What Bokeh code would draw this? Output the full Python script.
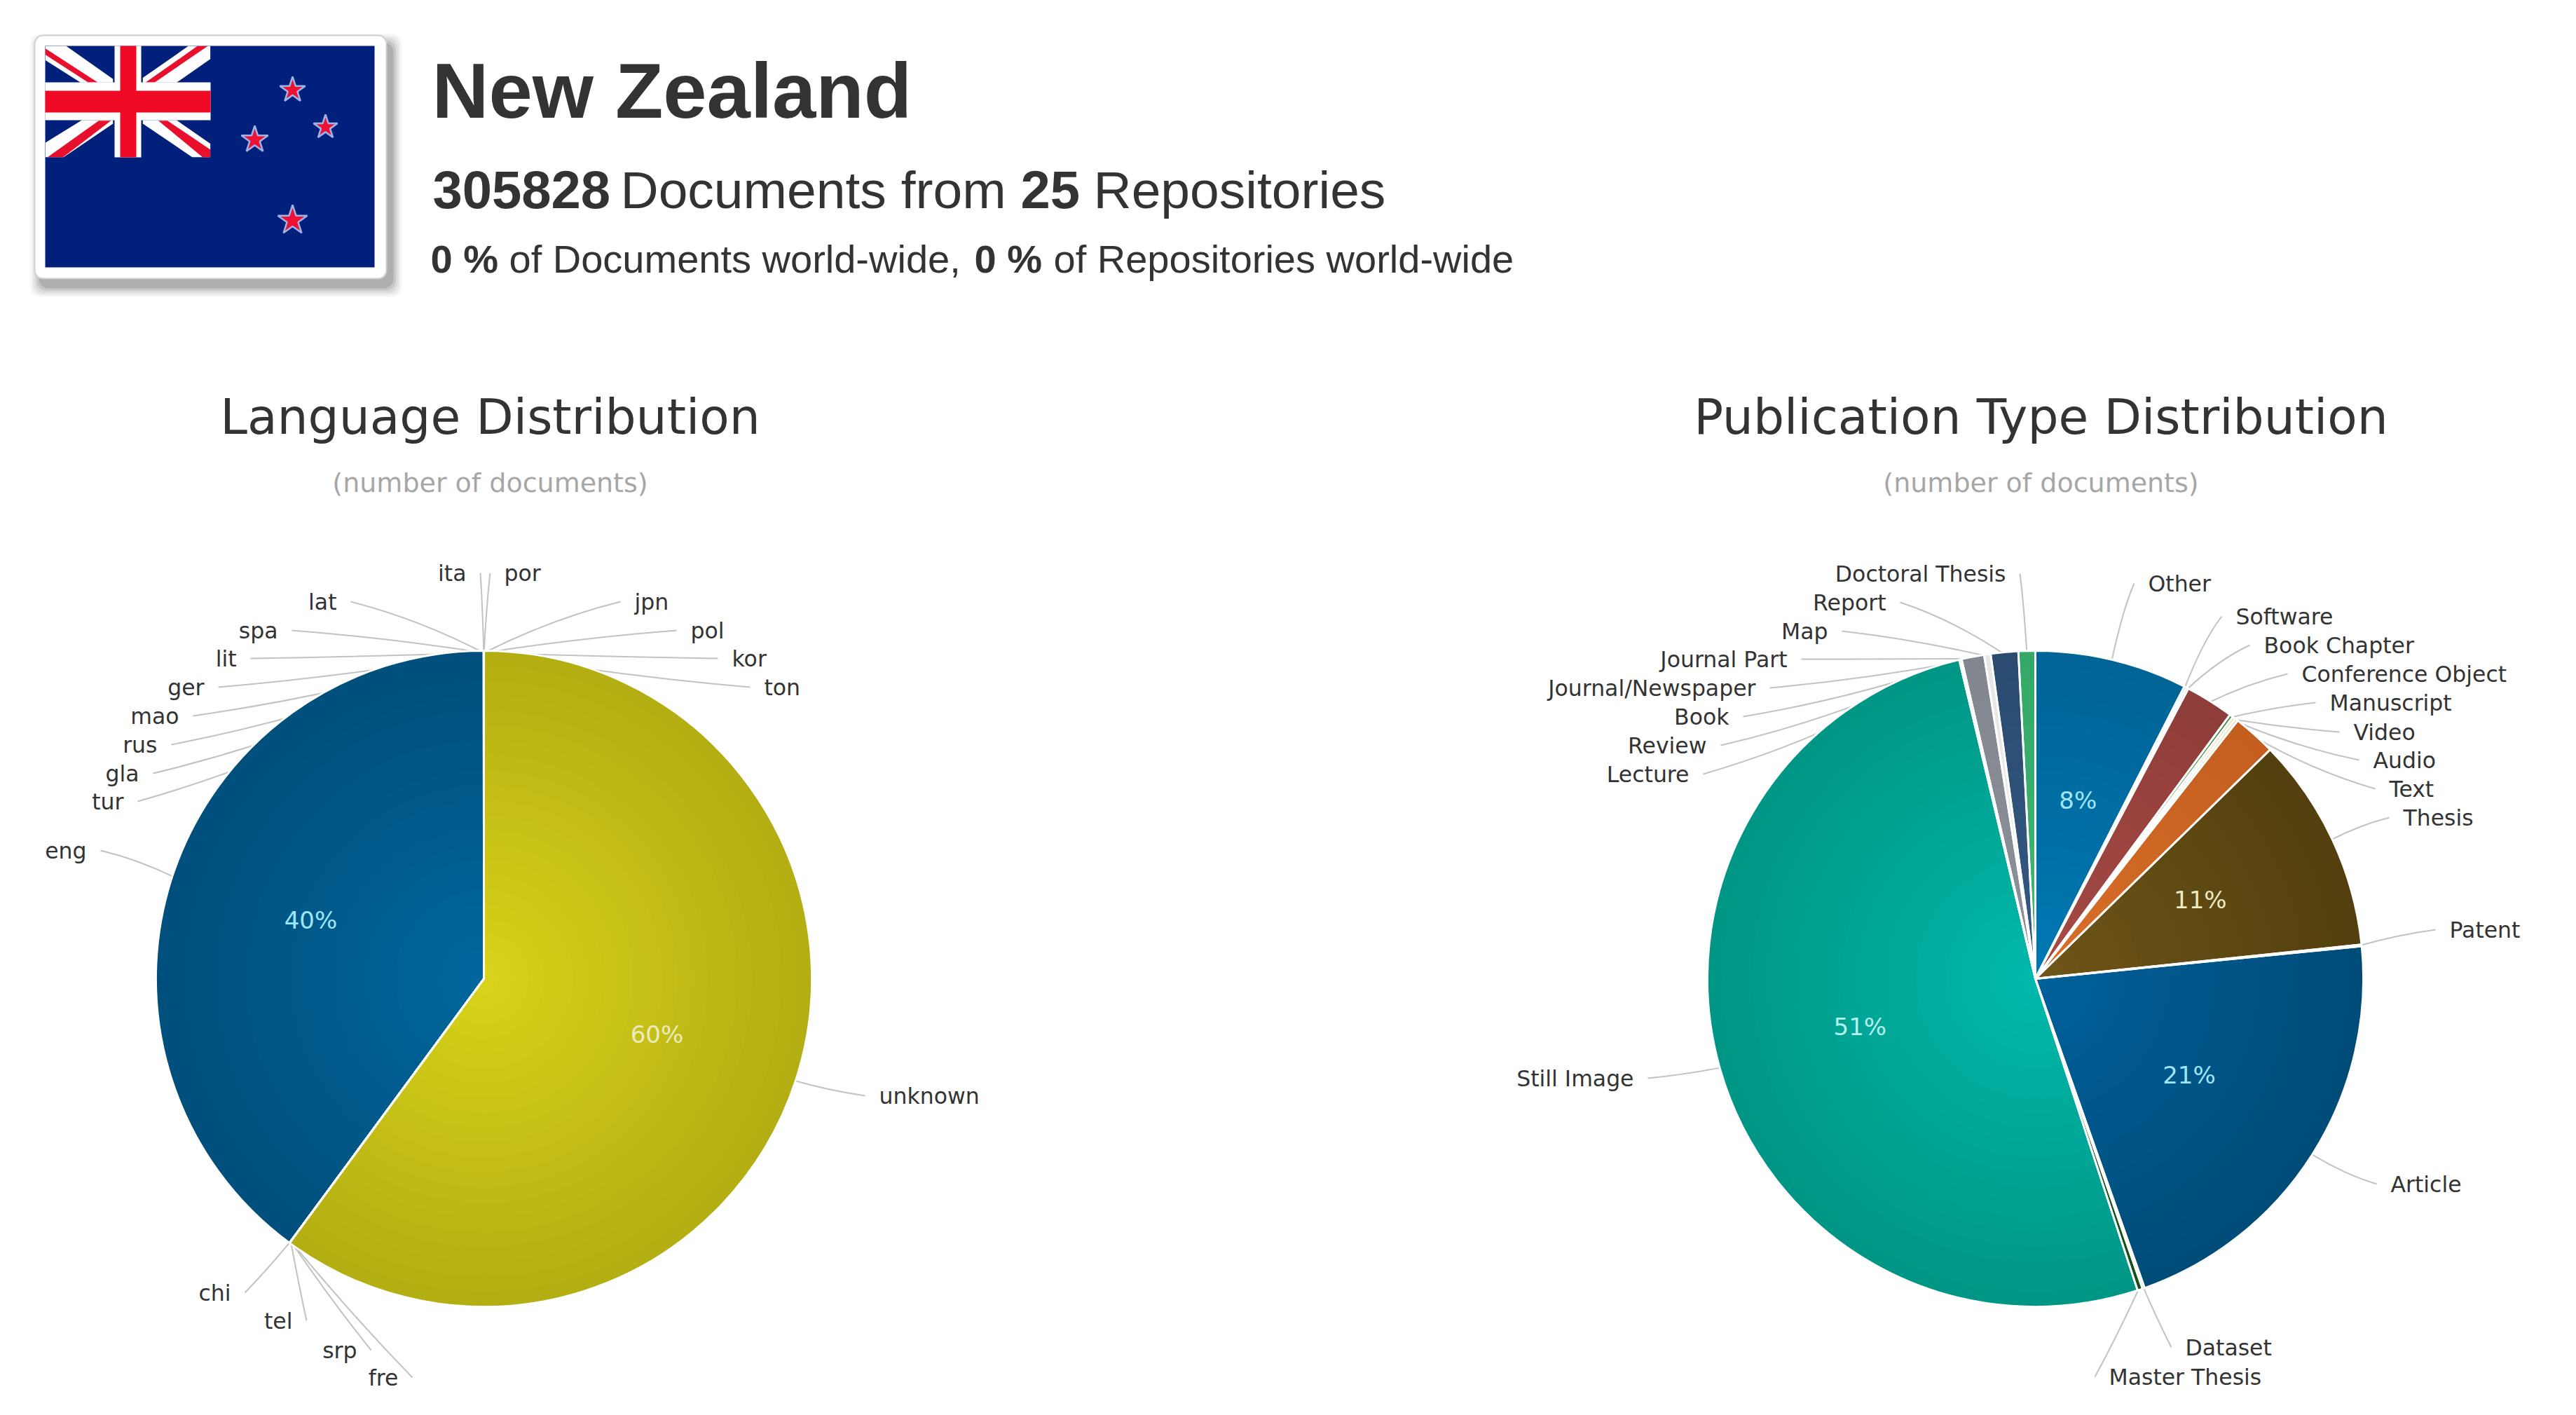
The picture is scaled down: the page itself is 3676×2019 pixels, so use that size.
import math
from bokeh.core.properties import value
from bokeh.embed import file_html
from bokeh.models import ColumnDataSource, Range1d
from bokeh.plotting import figure
from bokeh.resources import INLINE

# ---------------------------------------------------------------- data
country = "New Zealand"
documents = "305828"
repositories = "25"

lang_names = ["por", "jpn", "pol", "kor", "ton", "unknown", "fre", "srp", "tel", "chi",
              "eng", "tur", "gla", "rus", "mao", "ger", "lit", "spa", "lat", "ita"]
lang_values = [0.001, 0.001, 0.001, 0.001, 0.001, 60.1, 0.001, 0.001, 0.001, 0.001,
               39.9, 0.001, 0.001, 0.001, 0.001, 0.001, 0.001, 0.001, 0.001, 0.001]

pub_names = ["Other", "Software", "Book Chapter", "Conference Object", "Manuscript", "Video",
             "Audio", "Text", "Thesis", "Patent", "Article", "Dataset", "Master Thesis",
             "Still Image", "Lecture", "Review", "Book", "Journal/Newspaper", "Journal Part",
             "Map", "Report", "Doctoral Thesis"]
pub_values = [7.5, 0.11, 0.11, 2.39, 0.17, 0.15, 0.15, 2.11, 10.64, 0.08, 21.17, 0.11, 0.25,
              51.3, 0.03, 0.03, 0.03, 0.03, 1.11, 0.32, 1.35, 0.83]

# ---------------------------------------------------------------- styles
lang_inner = ["#d8d21a", "#d8d21a", "#d8d21a", "#d8d21a", "#d8d21a", "#d8d21a", "#d8d21a",
              "#d8d21a", "#d8d21a", "#d8d21a", "#00669b", "#00669b", "#00669b", "#00669b",
              "#00669b", "#00669b", "#00669b", "#00669b", "#00669b", "#00669b"]
lang_outer = ["#b3ae12", "#b3ae12", "#b3ae12", "#b3ae12", "#b3ae12", "#b3ae12", "#b3ae12",
              "#b3ae12", "#b3ae12", "#b3ae12", "#004f7c", "#004f7c", "#004f7c", "#004f7c",
              "#004f7c", "#004f7c", "#004f7c", "#004f7c", "#004f7c", "#004f7c"]

pub_inner = ["#0078b4", "#1a4f7a", "#2c6a9a", "#a64a45", "#4c9a50", "#f3e6bf", "#f3e6bf",
             "#d96e28", "#6e5518", "#0078b4", "#00609a", "#2e8b57", "#1b5e20", "#00b8aa",
             "#9aa0a8", "#9aa0a8", "#9aa0a8", "#9aa0a8", "#8d929b", "#f0f0f0", "#345a84", "#3fb877"]
pub_outer = ["#006496", "#123d60", "#20557e", "#8f3d3a", "#3f8544", "#eadbb0", "#eadbb0",
             "#c45f20", "#54400e", "#006496", "#004c79", "#257a4a", "#145018", "#009685",
             "#85898f", "#85898f", "#85898f", "#85898f", "#82868e", "#e6e6e6", "#2b4b70", "#35a868"]

TEXT = "#333333"
SANS = "Liberation Sans"
VERD = "DejaVu Sans"

W, H = 3676, 2019
RADIUS = 468
LANG_C = (690, 1396)
PUB_C = (2904, 1396)
RINGS = 22
LABEL_PX = 31.5

# Data-label layout (connector end at the label, text sits 20 px further out)
lang_anchor = {
    "por": (699, 817), "jpn": (885, 858), "pol": (965, 899), "kor": (1024, 939), "ton": (1070, 980),
    "unknown": (1234, 1563), "fre": (588, 1965), "srp": (529, 1926), "tel": (437, 1884),
    "chi": (349, 1844), "eng": (143, 1213), "tur": (196, 1143), "gla": (218, 1103),
    "rus": (244, 1062), "mao": (275, 1021), "ger": (311, 980), "lit": (357, 939),
    "spa": (416, 899), "lat": (500, 858), "ita": (685, 817),
}
lang_side = {"por": 1, "jpn": 1, "pol": 1, "kor": 1, "ton": 1, "unknown": 1}

pub_anchor = {
    "Other": (3045, 832), "Software": (3170, 879), "Book Chapter": (3210, 920),
    "Conference Object": (3264, 961), "Manuscript": (3304, 1002), "Video": (3338, 1044),
    "Audio": (3366, 1084), "Text": (3389, 1125), "Thesis": (3409, 1166), "Patent": (3475, 1326),
    "Article": (3391, 1689), "Dataset": (3098, 1922), "Master Thesis": (2989, 1964),
    "Still Image": (2351, 1538), "Lecture": (2430, 1104), "Review": (2455, 1063), "Book": (2487, 1022),
    "Journal/Newspaper": (2525, 981), "Journal Part": (2570, 940), "Map": (2628, 900),
    "Report": (2711, 859), "Doctoral Thesis": (2882, 818),
}
pub_side = {n: 1 for n in pub_names[:13]}

# ---------------------------------------------------------------- figure
p = figure(width=W - 16, height=H - 16, output_backend="svg", toolbar_location=None,
           x_range=Range1d(0, W - 16), y_range=Range1d(16, H),
           x_axis_type=None, y_axis_type=None, min_border=0, outline_line_color=None,
           background_fill_color="white", border_fill_color="white")
p.grid.visible = False


def Y(v):
    return H - v


def hex_mix(a, b, t):
    ca = [int(a[i:i + 2], 16) for i in (1, 3, 5)]
    cb = [int(b[i:i + 2], 16) for i in (1, 3, 5)]
    return "#%02x%02x%02x" % tuple(round(x + (y - x) * t) for x, y in zip(ca, cb))


def label(x, y, s, size, color=TEXT, font=VERD, align="left", baseline="alphabetic", style="normal"):
    p.text([x], [Y(y)], text=[s], text_font=value(font), text_font_size=f"{size}px", text_color=color,
           text_align=align, text_baseline=baseline, text_font_style=style)


def pie(center, names, values, inner, outer, anchor, side, title, title_x):
    cx, cy = center
    total = sum(values)
    a = 0.0
    starts, ends = [], []
    for v in values:
        starts.append(a)
        a += v / total * 2 * math.pi
        ends.append(a)
    mids = [(s + e) / 2 for s, e in zip(starts, ends)]

    # connectors sit behind the pie
    x0, y0, x1, y1, qx, qy = [], [], [], [], [], []
    for n, m in zip(names, mids):
        lx, ly = anchor[n]
        ex = cx + (RADIUS - 3) * math.sin(m)
        ey = cy - (RADIUS - 3) * math.cos(m)
        bend = 0.46 if ly > 1800 else 0.33
        x0.append(lx); y0.append(Y(ly)); x1.append(ex); y1.append(Y(ey))
        qx.append(lx + 0.5 * (ex - lx)); qy.append(Y(ly + bend * (ey - ly)))
    p.quadratic(x0, y0, x1, y1, qx, qy, line_color="#c2c2c2", line_width=2)

    # radial shading is built from nested wedges, outermost first
    sa = [math.pi / 2 - s for s in starts]
    ea = [math.pi / 2 - e for e in ends]
    for k in range(RINGS):
        t = k / (RINGS - 1)
        r = RADIUS * (1 - k / RINGS)
        src = ColumnDataSource(dict(s=sa, e=ea, c=[hex_mix(o, i, t) for o, i in zip(outer, inner)]))
        p.wedge(x=cx, y=Y(cy), radius=r, start_angle="s", end_angle="e", direction="clock",
                fill_color="c", line_color=None, source=src)
    p.wedge(x=[cx] * len(sa), y=[Y(cy)] * len(sa), radius=RADIUS, start_angle=sa, end_angle=ea,
            direction="clock", fill_color=None, line_color="white", line_width=2.8)

    # labels
    for n, v, m in zip(names, values, mids):
        lx, ly = anchor[n]
        if side.get(n):
            label(lx + 20, ly, n, LABEL_PX, baseline="middle")
        else:
            label(lx - 20, ly, n, LABEL_PX, align="right", baseline="middle")
        pct = v / total * 100
        if pct >= 5:
            bright = pct > 55 and n == "unknown" or n == "Thesis"
            col = "#ecebc0" if bright else ("#b6f2ee" if n == "Still Image" else "#a0e6fa")
            label(cx + 260 * math.sin(m), cy - 260 * math.cos(m) - 2, f"{pct:.0f}%", 34, color=col,
                  align="center", baseline="middle")

    label(title_x, 594, title, 69.5, color="#333333", align="center")
    label(title_x, 688, "(number of documents)", 38, color="#a6a6a6", align="center")


# ---------------------------------------------------------------- flag card
for grow, alpha in [(14, 0.05), (11, 0.07), (8, 0.09), (5, 0.12), (2, 0.18)]:
    p.quad(left=[49 + 8 - grow], right=[551 + 8 + grow], top=[Y(50 + 12 - grow)], bottom=[Y(397 + 12 + grow)],
           fill_color="#404040", fill_alpha=alpha, line_color=None, border_radius=14)
p.quad(left=[49], right=[551], top=[Y(50)], bottom=[Y(397)], fill_color="white", line_color="#d0d0d0",
       line_width=2, border_radius=12)
p.quad(left=[64], right=[534], top=[Y(65)], bottom=[Y(381)], fill_color="#00207c", line_color=None)


def fz(pts):
    """canton outline, in pixels of the flag image"""
    return [20 + x / 2.7 for x, _ in pts], [Y(20 + y / 2.98) for _, y in pts]


white_bands = [
    [(120, 135), (200, 135), (380, 275), (380, 290), (255, 290), (120, 195)],
    [(670, 135), (755, 135), (755, 190), (625, 290), (495, 290), (495, 270)],
    [(260, 450), (380, 450), (380, 465), (190, 607), (120, 607), (120, 545)],
    [(495, 450), (495, 465), (685, 607), (755, 607), (755, 550), (625, 450)],
]
red_bands = [
    [(120, 145), (120, 172), (285, 290), (322, 290)],
    [(705, 135), (745, 135), (540, 290), (505, 290)],
    [(325, 452), (372, 452), (188, 607), (128, 607)],
    [(555, 452), (590, 452), (755, 575), (755, 607), (725, 607)],
]
for poly in white_bands:
    xs, ys = fz(poly)
    p.patch(xs, ys, fill_color="white", line_color=None)
for poly in red_bands:
    xs, ys = fz(poly)
    p.patch(xs, ys, fill_color="#e8112d", line_color=None)
p.quad(left=[64], right=[300], top=[Y(117)], bottom=[Y(171)], fill_color="white", line_color=None)
p.quad(left=[163], right=[201], top=[Y(65)], bottom=[Y(224)], fill_color="white", line_color=None)
p.quad(left=[64], right=[300], top=[Y(129)], bottom=[Y(160)], fill_color="#f00a25", line_color=None)
p.quad(left=[171], right=[194], top=[Y(65)], bottom=[Y(224)], fill_color="#f00a25", line_color=None)
p.scatter([417, 464, 363, 417], [Y(128), Y(181), Y(199), Y(314)], marker="star", size=[38, 36, 40, 44],
          fill_color="#ee1133", line_color="#9fb4e6", line_width=2.5)

# ---------------------------------------------------------------- header
label(616, 129, country, 112, font=SANS, style="bold")
label(617, 270, documents, 76, font=SANS, style="bold")
label(885, 270, "Documents from", 75, font=SANS)
label(1456, 270, repositories, 76, font=SANS, style="bold")
label(1560, 270, "Repositories", 75, font=SANS)
label(614, 369, "0 %", 56, font=SANS, style="bold")
label(726, 369, "of Documents world-wide,", 56, font=SANS)
label(1390, 369, "0 %", 56, font=SANS, style="bold")
label(1503, 369, "of Repositories world-wide", 56, font=SANS)

# ---------------------------------------------------------------- pies
pie(LANG_C, lang_names, lang_values, lang_inner, lang_outer, lang_anchor, lang_side,
    "Language Distribution", 699)
pie(PUB_C, pub_names, pub_values, pub_inner, pub_outer, pub_anchor, pub_side,
    "Publication Type Distribution", 2912)

open("out.html", "w").write(file_html(p, INLINE))
